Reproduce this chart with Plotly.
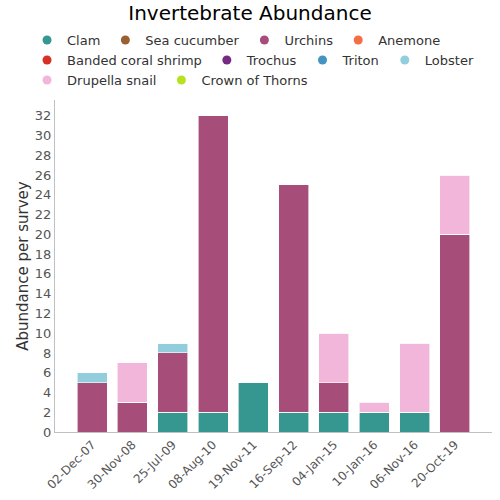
import plotly.graph_objects as go

dates = ["02-Dec-07", "30-Nov-08", "25-Jul-09", "08-Aug-10", "19-Nov-11",
         "16-Sep-12", "04-Jan-15", "10-Jan-16", "06-Nov-16", "20-Oct-19"]

clam = [0, 0, 2, 2, 5, 2, 2, 2, 2, 0]
sea_cucumber = [0, 0, 0, 0, 0, 0, 0, 0, 0, 0]
urchins = [5, 3, 6, 30, 0, 23, 3, 0, 0, 20]
anemone = [0, 0, 0, 0, 0, 0, 0, 0, 0, 0]
banded_shrimp = [0, 0, 0, 0, 0, 0, 0, 0, 0, 0]
trochus = [0, 0, 0, 0, 0, 0, 0, 0, 0, 0]
triton = [0, 0, 0, 0, 0, 0, 0, 0, 0, 0]
lobster = [1, 0, 1, 0, 0, 0, 0, 0, 0, 0]
drupella = [0, 4, 0, 0, 0, 0, 5, 1, 7, 6]
cots = [0, 0, 0, 0, 0, 0, 0, 0, 0, 0]

series = [
    ("Clam", clam, "#369690", "legend"),
    ("Sea cucumber", sea_cucumber, "#9a6030", "legend"),
    ("Urchins", urchins, "#a64d79", "legend"),
    ("Anemone", anemone, "#f46d43", "legend"),
    ("Banded coral shrimp", banded_shrimp, "#d73027", "legend2"),
    ("Trochus", trochus, "#762a83", "legend2"),
    ("Triton", triton, "#4393c3", "legend2"),
    ("Lobster", lobster, "#92cddc", "legend2"),
    ("Drupella snail", drupella, "#f1b6da", "legend3"),
    ("Crown of Thorns", cots, "#b8e11f", "legend3"),
]

fig = go.Figure()
for name, vals, color, lg in series:
    fig.add_trace(go.Bar(
        x=list(range(len(dates))), y=vals, name=name, showlegend=False,
        marker=dict(color=color, line=dict(color="rgba(255,255,255,0.6)", width=1)),
        legendgroup=name,
    ))
for name, vals, color, lg in series:
    fig.add_trace(go.Scatter(
        x=[None], y=[None], mode="markers", name=name, legendgroup=name, legend=lg,
        marker=dict(color=color, size=9, symbol="circle"),
    ))

leg_common = dict(orientation="h", xanchor="left", yanchor="middle",
                  xref="paper", yref="paper", x=-0.064,
                  font=dict(size=13, color="#333333"), itemwidth=30,
                  bgcolor="rgba(0,0,0,0)", traceorder="normal")

fig.update_layout(
    width=500, height=500,
    barmode="stack", bargap=0.255,
    paper_bgcolor="white", plot_bgcolor="white",
    font=dict(family="DejaVu Sans", color="#333333"),
    title=dict(text="Invertebrate Abundance", x=0.5, xanchor="center",
               yref="container", y=0.961, yanchor="bottom",
               font=dict(size=20, color="#000000")),
    legend=dict(y=1.1807, **leg_common),
    legend2=dict(y=1.1205, **leg_common),
    legend3=dict(y=1.0602, **leg_common),
    margin=dict(l=55, r=8, t=100, b=68),
    xaxis=dict(
        tickmode="array", tickvals=list(range(len(dates))), ticktext=dates,
        range=[-0.92, 9.92], tickangle=-45, showline=True, linecolor="#c0c0c0",
        linewidth=1, ticks="", showgrid=False, tickfont=dict(size=12, color="#555555"),
        zeroline=False,
    ),
    yaxis=dict(
        range=[0, 33.6], dtick=2, showline=True, linecolor="#c0c0c0", linewidth=1,
        showgrid=False, zeroline=False, tickfont=dict(size=13, color="#555555"),
        title=dict(text="Abundance per survey", font=dict(size=15, color="#333333"), standoff=2),
    ),
)

fig.write_html("out.html", config={"displayModeBar": False},
               post_script="document.body.style.margin='0';")
